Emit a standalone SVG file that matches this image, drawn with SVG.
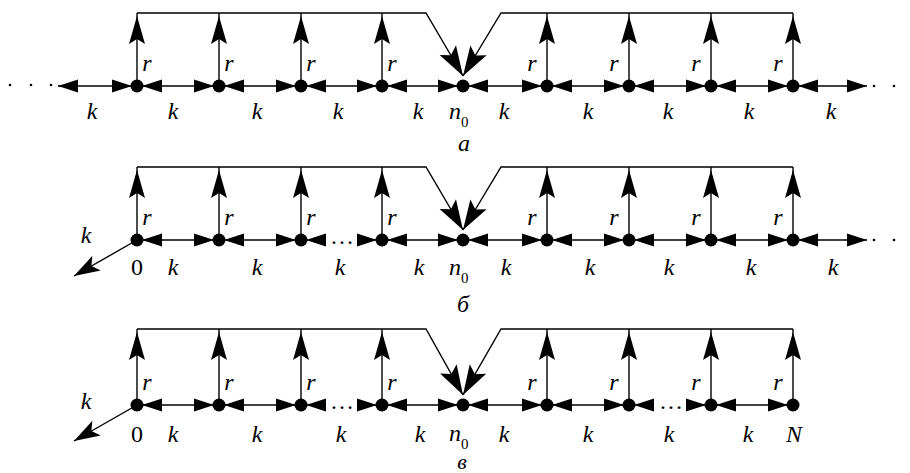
<svg xmlns="http://www.w3.org/2000/svg" width="910" height="473" viewBox="0 0 910 473">
<style>
.ln{stroke:#000;stroke-width:1.4;fill:none}
.h{marker-start:url(#tri);marker-end:url(#tri)}
.he{marker-end:url(#tri)}
.v{marker-end:url(#up)}
.d{marker-end:url(#big)}
.kd{marker-end:url(#kdh)}
.nd{fill:#000}
.dot{fill:#000}
text{font-family:"Liberation Serif","Times New Roman",serif;font-size:24px;font-style:italic;fill:#000}
.m{text-anchor:middle}
.rm{font-style:normal}
.sub{font-size:15px;font-style:normal}
.lbl{font-size:22px}
</style>
<defs>
<marker id="tri" viewBox="-21 -8 22 16" markerWidth="22" markerHeight="16" refX="0" refY="0" orient="auto-start-reverse" markerUnits="userSpaceOnUse"><path d="M0,0 L-20,-6.5 L-20,6.5 Z" fill="#000"/></marker>
<marker id="up" viewBox="-30 -10 34 20" markerWidth="34" markerHeight="20" refX="3" refY="0" orient="auto" markerUnits="userSpaceOnUse"><path d="M0,0 L-28,-8 L-23,0 L-28,8 Z" fill="#000"/></marker>
<marker id="big" viewBox="-32 -11 34 22" markerWidth="34" markerHeight="22" refX="0" refY="0" orient="auto" markerUnits="userSpaceOnUse"><path d="M0,0 L-30,-9.5 L-24,0 L-30,9.5 Z" fill="#000"/></marker>
<marker id="kdh" viewBox="-27 -10 29 20" markerWidth="29" markerHeight="20" refX="0" refY="0" orient="auto" markerUnits="userSpaceOnUse"><path d="M0,0 L-26,-8.5 L-20,0 L-26,8.5 Z" fill="#000"/></marker>
</defs>

<g id="connectors">
<g id="conn-a" class="ln">
<line class="h" x1="58" y1="86" x2="132" y2="86"/>
<line class="h" x1="142" y1="86" x2="214" y2="86"/>
<line class="h" x1="224" y1="86" x2="296" y2="86"/>
<line class="h" x1="306" y1="86" x2="377" y2="86"/>
<line class="h" x1="387" y1="86" x2="458" y2="86"/>
<line class="h" x1="468" y1="86" x2="542" y2="86"/>
<line class="h" x1="552" y1="86" x2="624" y2="86"/>
<line class="h" x1="634" y1="86" x2="706" y2="86"/>
<line class="h" x1="716" y1="86" x2="788" y2="86"/>
<line class="h" x1="798" y1="86" x2="867" y2="86"/>
<line class="v" x1="137" y1="86" x2="137" y2="13"/>
<line class="v" x1="219" y1="86" x2="219" y2="13"/>
<line class="v" x1="301" y1="86" x2="301" y2="13"/>
<line class="v" x1="382" y1="86" x2="382" y2="13"/>
<line class="v" x1="547" y1="86" x2="547" y2="13"/>
<line class="v" x1="629" y1="86" x2="629" y2="13"/>
<line class="v" x1="711" y1="86" x2="711" y2="13"/>
<line class="v" x1="793" y1="86" x2="793" y2="13"/>
<path class="d" d="M137,13 H426 L463,76"/>
<path class="d" d="M793,13 H501 L463,76"/>
</g>
<g id="conn-b" class="ln">
<line class="kd" x1="137" y1="240" x2="74" y2="276"/>
<line class="h" x1="142" y1="240" x2="214" y2="240"/>
<line class="h" x1="224" y1="240" x2="296" y2="240"/>
<line class="he" x1="326" y1="240" x2="306" y2="240"/>
<line class="he" x1="357" y1="240" x2="377" y2="240"/>
<line class="h" x1="387" y1="240" x2="458" y2="240"/>
<line class="h" x1="468" y1="240" x2="542" y2="240"/>
<line class="h" x1="552" y1="240" x2="624" y2="240"/>
<line class="h" x1="634" y1="240" x2="706" y2="240"/>
<line class="h" x1="716" y1="240" x2="788" y2="240"/>
<line class="h" x1="798" y1="240" x2="867" y2="240"/>
<line class="v" x1="137" y1="240" x2="137" y2="167"/>
<line class="v" x1="219" y1="240" x2="219" y2="167"/>
<line class="v" x1="301" y1="240" x2="301" y2="167"/>
<line class="v" x1="382" y1="240" x2="382" y2="167"/>
<line class="v" x1="547" y1="240" x2="547" y2="167"/>
<line class="v" x1="629" y1="240" x2="629" y2="167"/>
<line class="v" x1="711" y1="240" x2="711" y2="167"/>
<line class="v" x1="793" y1="240" x2="793" y2="167"/>
<path class="d" d="M137,167 H426 L463,230"/>
<path class="d" d="M793,167 H501 L463,230"/>
</g>
<g id="conn-c" class="ln">
<line class="kd" x1="137" y1="405" x2="74" y2="441"/>
<line class="h" x1="142" y1="405" x2="214" y2="405"/>
<line class="h" x1="224" y1="405" x2="296" y2="405"/>
<line class="he" x1="326" y1="405" x2="306" y2="405"/>
<line class="he" x1="357" y1="405" x2="377" y2="405"/>
<line class="h" x1="387" y1="405" x2="458" y2="405"/>
<line class="h" x1="468" y1="405" x2="542" y2="405"/>
<line class="h" x1="552" y1="405" x2="624" y2="405"/>
<line class="he" x1="654" y1="405" x2="634" y2="405"/>
<line class="he" x1="686" y1="405" x2="706" y2="405"/>
<line class="h" x1="716" y1="405" x2="788" y2="405"/>
<line class="v" x1="137" y1="405" x2="137" y2="329"/>
<line class="v" x1="219" y1="405" x2="219" y2="329"/>
<line class="v" x1="301" y1="405" x2="301" y2="329"/>
<line class="v" x1="382" y1="405" x2="382" y2="329"/>
<line class="v" x1="547" y1="405" x2="547" y2="329"/>
<line class="v" x1="629" y1="405" x2="629" y2="329"/>
<line class="v" x1="711" y1="405" x2="711" y2="329"/>
<line class="v" x1="793" y1="405" x2="793" y2="329"/>
<path class="d" d="M137,329 H426 L463,395"/>
<path class="d" d="M793,329 H501 L463,395"/>
</g>
<g id="edge-labels">
<text class="m" x="147" y="71">r</text><text class="m" x="229" y="71">r</text><text class="m" x="311" y="71">r</text><text class="m" x="392" y="71">r</text>
<text class="m" x="532" y="71">r</text><text class="m" x="614" y="71">r</text><text class="m" x="696" y="71">r</text><text class="m" x="778" y="71">r</text>
<text class="m" x="147" y="225">r</text><text class="m" x="229" y="225">r</text><text class="m" x="311" y="225">r</text><text class="m" x="392" y="225">r</text>
<text class="m" x="532" y="225">r</text><text class="m" x="614" y="225">r</text><text class="m" x="696" y="225">r</text><text class="m" x="778" y="225">r</text>
<text class="m" x="147" y="390">r</text><text class="m" x="229" y="390">r</text><text class="m" x="311" y="390">r</text><text class="m" x="392" y="390">r</text>
<text class="m" x="532" y="390">r</text><text class="m" x="614" y="390">r</text><text class="m" x="696" y="390">r</text><text class="m" x="778" y="390">r</text>
<text class="m" x="92" y="119">k</text><text class="m" x="173" y="119">k</text><text class="m" x="257" y="119">k</text><text class="m" x="338" y="119">k</text><text class="m" x="418" y="119">k</text>
<text class="m" x="504" y="119">k</text><text class="m" x="588" y="119">k</text><text class="m" x="668" y="119">k</text><text class="m" x="749" y="119">k</text><text class="m" x="831" y="119">k</text>
<text class="m" x="86" y="243">k</text>
<text class="m" x="173" y="275">k</text><text class="m" x="257" y="275">k</text><text class="m" x="340" y="275">k</text><text class="m" x="419" y="275">k</text>
<text class="m" x="506" y="275">k</text><text class="m" x="590" y="275">k</text><text class="m" x="669" y="275">k</text><text class="m" x="751" y="275">k</text><text class="m" x="833" y="275">k</text>
<text class="m" x="86" y="409">k</text>
<text class="m" x="173" y="442">k</text><text class="m" x="257" y="442">k</text><text class="m" x="341" y="442">k</text><text class="m" x="420" y="442">k</text>
<text class="m" x="504" y="442">k</text><text class="m" x="588" y="442">k</text><text class="m" x="669" y="442">k</text><text class="m" x="748" y="442">k</text>
<text class="m rm" x="342" y="244">…</text>
<text class="m rm" x="342" y="409">…</text>
<text class="m rm" x="671" y="409">…</text>
</g>
<g id="end-dots">
<circle class="dot" cx="10" cy="85" r="1.3"/><circle class="dot" cx="31" cy="85" r="1.3"/><circle class="dot" cx="51" cy="85" r="1.3"/>
<circle class="dot" cx="874" cy="86" r="1.3"/><circle class="dot" cx="894" cy="86" r="1.3"/>
<circle class="dot" cx="874" cy="240" r="1.3"/><circle class="dot" cx="894" cy="240" r="1.3"/>
</g>
</g>

<g id="a-n1"><circle class="nd" cx="137" cy="86" r="6.5"/></g>
<g id="a-n2"><circle class="nd" cx="219" cy="86" r="6.5"/></g>
<g id="a-n3"><circle class="nd" cx="301" cy="86" r="6.5"/></g>
<g id="a-n4"><circle class="nd" cx="382" cy="86" r="6.5"/></g>
<g id="a-n0"><circle class="nd" cx="463" cy="86" r="6.5"/><text x="449" y="119">n<tspan class="sub" dy="8">0</tspan></text></g>
<g id="a-n6"><circle class="nd" cx="547" cy="86" r="6.5"/></g>
<g id="a-n7"><circle class="nd" cx="629" cy="86" r="6.5"/></g>
<g id="a-n8"><circle class="nd" cx="711" cy="86" r="6.5"/></g>
<g id="a-n9"><circle class="nd" cx="793" cy="86" r="6.5"/></g>
<text id="label-a" class="m" x="464" y="151">а</text>

<g id="b-n1"><circle class="nd" cx="137" cy="240" r="6.5"/><text class="m rm" x="137" y="275">0</text></g>
<g id="b-n2"><circle class="nd" cx="219" cy="240" r="6.5"/></g>
<g id="b-n3"><circle class="nd" cx="301" cy="240" r="6.5"/></g>
<g id="b-n4"><circle class="nd" cx="382" cy="240" r="6.5"/></g>
<g id="b-n0"><circle class="nd" cx="463" cy="240" r="6.5"/><text x="449" y="275">n<tspan class="sub" dy="8">0</tspan></text></g>
<g id="b-n6"><circle class="nd" cx="547" cy="240" r="6.5"/></g>
<g id="b-n7"><circle class="nd" cx="629" cy="240" r="6.5"/></g>
<g id="b-n8"><circle class="nd" cx="711" cy="240" r="6.5"/></g>
<g id="b-n9"><circle class="nd" cx="793" cy="240" r="6.5"/></g>
<text id="label-b" class="m" x="463" y="312">б</text>

<g id="c-n1"><circle class="nd" cx="137" cy="405" r="6.5"/><text class="m rm" x="137" y="442">0</text></g>
<g id="c-n2"><circle class="nd" cx="219" cy="405" r="6.5"/></g>
<g id="c-n3"><circle class="nd" cx="301" cy="405" r="6.5"/></g>
<g id="c-n4"><circle class="nd" cx="382" cy="405" r="6.5"/></g>
<g id="c-n0"><circle class="nd" cx="463" cy="405" r="6.5"/><text x="449" y="441">n<tspan class="sub" dy="8">0</tspan></text></g>
<g id="c-n6"><circle class="nd" cx="547" cy="405" r="6.5"/></g>
<g id="c-n7"><circle class="nd" cx="629" cy="405" r="6.5"/></g>
<g id="c-n8"><circle class="nd" cx="711" cy="405" r="6.5"/></g>
<g id="c-nN"><circle class="nd" cx="793" cy="405" r="6.5"/><text class="m" x="794" y="442">N</text></g>
<text id="label-c" class="m lbl" x="462" y="469">в</text>
</svg>
